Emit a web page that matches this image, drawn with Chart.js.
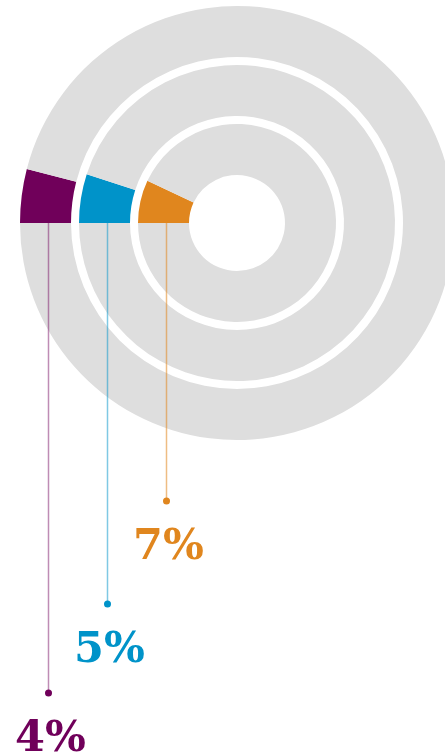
<!DOCTYPE html>
<html>
<head>
<meta charset="utf-8">
<script src="https://cdn.jsdelivr.net/npm/chart.js@4.4.1/dist/chart.umd.min.js"></script>
<style>
  html, body { margin: 0; padding: 0; overflow: hidden; background: #fff; }
  #ringChart { display: block; }
</style>
</head>
<body>
<canvas id="ringChart" width="454" height="756"></canvas>
<script>
// Rings from outside to inside
const shares = [4, 5, 7];
const shareLabels = ["4%", "5%", "7%"];
const ringColors = ["#70005a", "#0093c9", "#e0861e"];
const leaderColors = ["rgba(112, 0, 90, 0.45)", "rgba(0, 147, 201, 0.5)", "rgba(224, 134, 30, 0.55)"];
const restColor = "#dedede";

// build the datasets: one ring per share, with a transparent spacer ring between them
const datasets = [];
shares.forEach((v, i) => {
  if (i > 0) {
    datasets.push({
      data: [1],
      backgroundColor: ["rgba(0,0,0,0)"],
      borderWidth: 0,
      weight: 8,
    });
  }
  datasets.push({
    data: [v, 100 - v],
    backgroundColor: [ringColors[i], restColor],
    borderWidth: 0,
    weight: 51,
    ringIndex: i,
  });
});

// draws the thin leader lines, dots and the big percentage labels
const leaderPlugin = {
  id: "leaders",
  afterDraw(chart, args, opts) {
    const ctx = chart.ctx;
    chart.data.datasets.forEach((ds, di) => {
      if (ds.ringIndex === undefined) return;
      const i = ds.ringIndex;
      const arc = chart.getDatasetMeta(di).data[0];
      const x = arc.x - (arc.innerRadius + arc.outerRadius) / 2 + 3;
      const y0 = arc.y;
      const y1 = arc.y + opts.tails[i];

      ctx.save();
      ctx.strokeStyle = leaderColors[i];
      ctx.lineWidth = 1.5;
      ctx.beginPath();
      ctx.moveTo(x, y0);
      ctx.lineTo(x, y1);
      ctx.stroke();

      ctx.fillStyle = ringColors[i];
      ctx.beginPath();
      ctx.arc(x, y1, 3.5, 0, Math.PI * 2);
      ctx.fill();

      ctx.font = "bold 43px 'DejaVu Serif', serif";
      ctx.textAlign = "center";
      ctx.textBaseline = "alphabetic";
      ctx.fillText(shareLabels[i], x + 2, y1 + 58);
      ctx.restore();
    });
  },
};

new Chart(document.getElementById("ringChart").getContext("2d"), {
  type: "doughnut",
  data: {
    labels: ["share", "rest"],
    datasets: datasets,
  },
  options: {
    responsive: false,
    animation: false,
    events: [],
    rotation: 270,
    cutout: 48,
    layout: {
      padding: { left: 20, top: 6, right: 0, bottom: 316 },
    },
    plugins: {
      legend: { display: false },
      tooltip: { enabled: false },
      leaders: { tails: [470, 381, 278] },
    },
  },
  plugins: [leaderPlugin],
});
</script>
</body>
</html>
